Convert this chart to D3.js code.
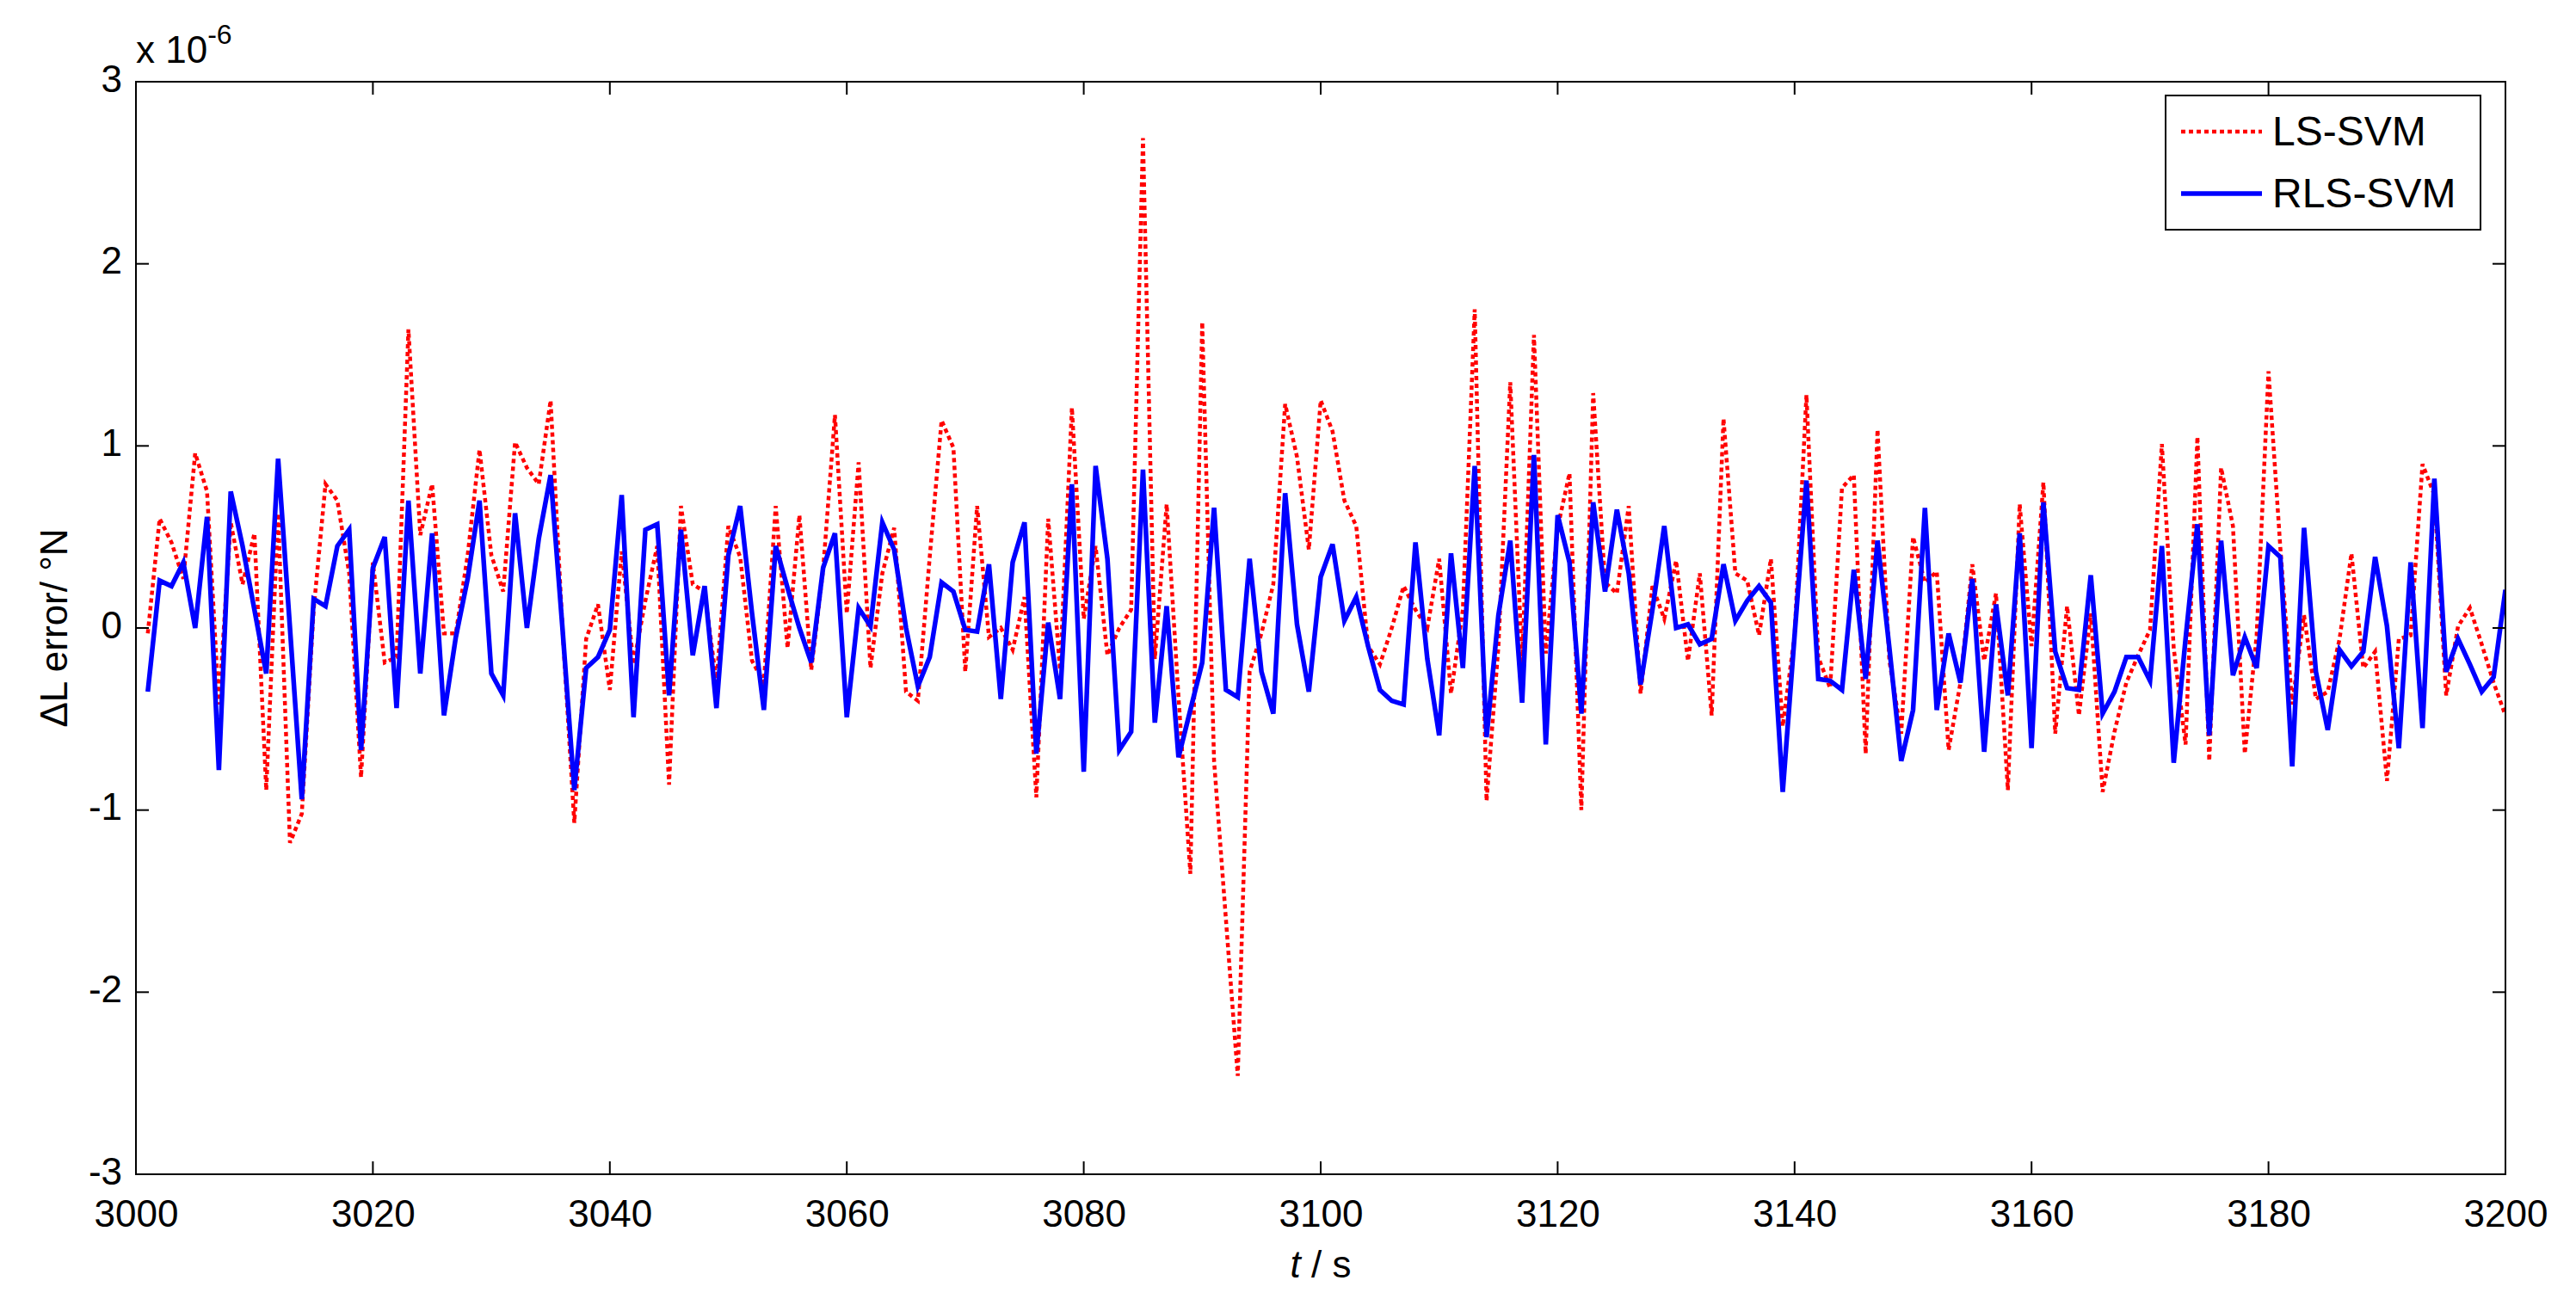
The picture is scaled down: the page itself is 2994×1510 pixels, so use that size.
<!DOCTYPE html>
<html><head><meta charset="utf-8">
<script src="https://cdn.jsdelivr.net/npm/d3@7/dist/d3.min.js"></script>
<style>body{margin:0;background:#fff}svg{display:block}text{font-family:"Liberation Sans",Arial,sans-serif;fill:#000}</style>
</head><body>
<script>
const tStart = 3001;
const lsSvm = [
-0.03,0.6,0.47,0.27,0.96,0.75,-0.42,0.58,0.24,0.52,-0.89,0.63,-1.18,-1.02,0.1,0.79,0.7,0.3,-0.82,0.36,
-0.19,-0.16,1.64,0.51,0.79,-0.03,-0.03,0.4,0.98,0.4,0.2,1.02,0.88,0.79,1.25,0.0,-1.07,-0.06,0.13,-0.34,
0.42,-0.2,0.15,0.45,-0.86,0.67,0.24,0.2,-0.3,0.56,0.39,-0.18,-0.3,0.67,-0.11,0.62,-0.23,0.32,1.17,0.08,
0.91,-0.22,0.3,0.55,-0.35,-0.4,0.39,1.14,0.99,-0.24,0.67,-0.05,0.0,-0.12,0.17,-0.93,0.6,-0.23,1.21,0.05,
0.45,-0.15,0.0,0.1,2.69,-0.17,0.68,-0.38,-1.35,1.68,-0.73,-1.6,-2.46,-0.24,-0.03,0.24,1.23,0.94,0.43,1.25,
1.08,0.7,0.56,-0.1,-0.2,0.0,0.23,0.1,0.0,0.38,-0.36,0.1,1.75,-0.95,-0.1,1.35,-0.2,1.61,-0.14,0.55,
0.85,-1.0,1.29,0.25,0.19,0.67,-0.36,0.23,0.05,0.37,-0.18,0.3,-0.48,1.15,0.3,0.26,-0.04,0.38,-0.54,-0.04,
1.28,-0.16,-0.33,0.77,0.84,-0.69,1.09,-0.18,-0.58,0.5,0.25,0.31,-0.67,-0.3,0.35,-0.18,0.19,-0.89,0.68,-0.1,
0.8,-0.58,0.12,-0.48,0.08,-0.9,-0.57,-0.3,-0.15,-0.01,1.01,-0.11,-0.64,1.05,-0.73,0.88,0.56,-0.69,-0.04,1.41,
0.44,-0.42,0.07,-0.39,-0.35,-0.06,0.41,-0.22,-0.13,-0.84,-0.06,-0.04,0.9,0.73,-0.37,0.01,0.11,-0.09,-0.3,-0.48];
const rlsSvm = [
-0.35,0.26,0.23,0.36,0.0,0.61,-0.78,0.75,0.45,0.1,-0.25,0.93,0.0,-0.94,0.16,0.12,0.45,0.54,-0.67,0.33,
0.5,-0.44,0.7,-0.25,0.52,-0.48,-0.05,0.27,0.7,-0.25,-0.37,0.63,0.0,0.49,0.84,0.0,-0.89,-0.22,-0.16,-0.01,
0.73,-0.49,0.54,0.57,-0.37,0.54,-0.15,0.23,-0.44,0.4,0.67,0.08,-0.45,0.45,0.22,0.0,-0.19,0.33,0.52,-0.49,
0.11,0.01,0.58,0.43,0.0,-0.32,-0.16,0.25,0.2,-0.01,-0.02,0.35,-0.39,0.36,0.58,-0.69,0.03,-0.39,0.79,-0.79,
0.89,0.38,-0.67,-0.57,0.87,-0.52,0.12,-0.71,-0.45,-0.19,0.66,-0.34,-0.38,0.38,-0.24,-0.47,0.74,0.02,-0.35,0.28,
0.46,0.04,0.17,-0.1,-0.34,-0.4,-0.42,0.47,-0.17,-0.59,0.41,-0.22,0.89,-0.6,0.07,0.48,-0.41,0.95,-0.64,0.62,
0.36,-0.47,0.69,0.2,0.65,0.3,-0.31,0.1,0.56,0.0,0.02,-0.09,-0.06,0.35,0.04,0.15,0.23,0.14,-0.9,-0.04,
0.81,-0.28,-0.29,-0.34,0.32,-0.28,0.48,-0.11,-0.73,-0.45,0.66,-0.45,-0.03,-0.3,0.27,-0.68,0.13,-0.37,0.52,-0.66,
0.69,-0.13,-0.33,-0.34,0.29,-0.47,-0.35,-0.16,-0.16,-0.29,0.45,-0.74,-0.06,0.57,-0.59,0.48,-0.26,-0.05,-0.22,0.45,
0.39,-0.76,0.55,-0.24,-0.56,-0.12,-0.21,-0.13,0.39,0.01,-0.66,0.36,-0.55,0.82,-0.24,-0.06,-0.2,-0.35,-0.27,0.21];
const xTicks = [3000,3020,3040,3060,3080,3100,3120,3140,3160,3180,3200];
const yTicks = [-3,-2,-1,0,1,2,3];
const seriesNames = ["LS-SVM","RLS-SVM"];

const W=2994,H=1510,L=158,R=2912,T=95,B=1365;
const svg=d3.select("body").append("svg").attr("width",W).attr("height",H);
const x=d3.scaleLinear().domain([3000,3200]).range([L,R]);
const y=d3.scaleLinear().domain([-3,3]).range([B,T]);
const fs=44;

svg.append("clipPath").attr("id","c").append("rect").attr("x",L).attr("y",T).attr("width",R-L).attr("height",B-T);
const line=d3.line().x((d,i)=>x(tStart+i)).y(d=>y(d));
const g=svg.append("g").attr("clip-path","url(#c)");
g.append("path").datum(lsSvm).attr("d",line).attr("fill","none").attr("stroke","#ff0000").attr("stroke-width",4.5).attr("stroke-dasharray","5,4");
g.append("path").datum(rlsSvm).attr("d",line).attr("fill","none").attr("stroke","#0000ff").attr("stroke-width",5.5);

svg.append("rect").attr("x",L).attr("y",T).attr("width",R-L).attr("height",B-T).attr("fill","none").attr("stroke","#000").attr("stroke-width",2);
const tk=15;
const ax=svg.append("g").attr("transform",`translate(0,${B})`).call(d3.axisBottom(x).tickValues(xTicks).tickSize(0).tickPadding(30).tickFormat(d3.format("d")));
ax.select(".domain").remove();
ax.selectAll("text").attr("font-size",fs).attr("font-family","Liberation Sans, Arial");
const ay=svg.append("g").attr("transform",`translate(${L},0)`).call(d3.axisLeft(y).tickValues(yTicks).tickSize(0).tickPadding(16).tickFormat(d=>d));
ay.select(".domain").remove();
ay.selectAll("text").attr("font-size",fs).attr("font-family","Liberation Sans, Arial").attr("dy","0.25em");
xTicks.forEach(v=>{
  svg.append("line").attr("x1",x(v)).attr("x2",x(v)).attr("y1",B).attr("y2",B-tk).attr("stroke","#000").attr("stroke-width",2);
  svg.append("line").attr("x1",x(v)).attr("x2",x(v)).attr("y1",T).attr("y2",T+tk).attr("stroke","#000").attr("stroke-width",2);
});
yTicks.forEach(v=>{
  svg.append("line").attr("x1",L).attr("x2",L+tk).attr("y1",y(v)).attr("y2",y(v)).attr("stroke","#000").attr("stroke-width",2);
  svg.append("line").attr("x1",R).attr("x2",R-tk).attr("y1",y(v)).attr("y2",y(v)).attr("stroke","#000").attr("stroke-width",2);
});
const ex=svg.append("text").attr("x",L).attr("y",T-22).attr("font-size",fs);
ex.append("tspan").text("x 10");
ex.append("tspan").attr("font-size",32).attr("dy",-22).text("-6");
const xl=svg.append("text").attr("x",(L+R)/2).attr("y",B+120).attr("text-anchor","middle").attr("font-size",fs);
xl.append("tspan").attr("font-style","italic").text("t");
xl.append("tspan").text(" / s");
svg.append("text").attr("transform",`translate(${L-80},${(T+B)/2}) rotate(-90)`).attr("text-anchor","middle").attr("font-size",fs).text("ΔL error/ °N");
const lx=2517,ly=111,lw=366,lh=156;
svg.append("rect").attr("x",lx).attr("y",ly).attr("width",lw).attr("height",lh).attr("fill","#fff").attr("stroke","#000").attr("stroke-width",2);
const styles=[{c:"#ff0000",w:4.5,d:"5,4"},{c:"#0000ff",w:5.5,d:null}];
seriesNames.forEach((n,i)=>{
  const yy=ly+42+i*72;
  svg.append("line").attr("x1",lx+18).attr("x2",lx+112).attr("y1",yy).attr("y2",yy).attr("stroke",styles[i].c).attr("stroke-width",styles[i].w).attr("stroke-dasharray",styles[i].d);
  svg.append("text").attr("x",lx+124).attr("y",yy+16).attr("font-size",48).text(n);
});
</script>
</body></html>
